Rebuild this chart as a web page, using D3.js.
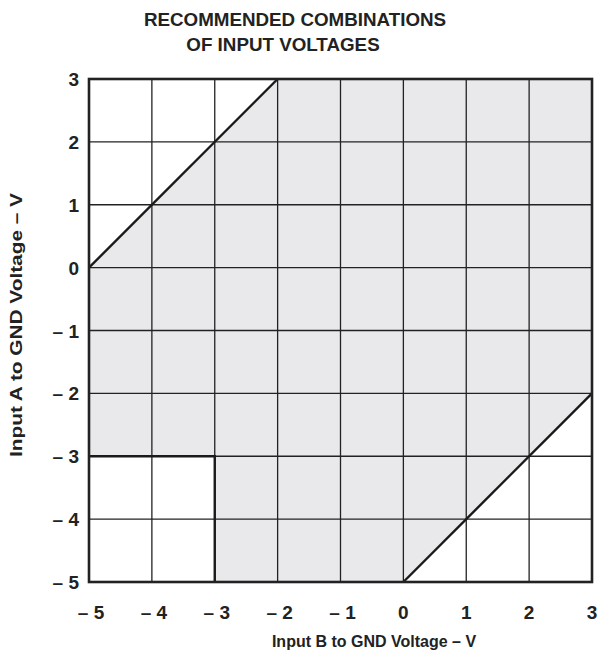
<!DOCTYPE html>
<html>
<head>
<meta charset="utf-8">
<script src="https://cdn.jsdelivr.net/npm/d3@7"></script>
<style>
  html, body { margin: 0; padding: 0; background: #fff; }
  svg { display: block; font-family: "Liberation Sans", Arial, sans-serif; }
</style>
</head>
<body>
<svg id="chart" width="598" height="653"></svg>
<script>
// ---- data ----
const titleLines = ["RECOMMENDED COMBINATIONS", "OF INPUT VOLTAGES"];
const xLabel = "Input B to GND Voltage \u2013 V";
const yLabel = "Input A to GND Voltage \u2013 V";
const xTicks = [-5, -4, -3, -2, -1, 0, 1, 2, 3];
const yTicks = [-5, -4, -3, -2, -1, 0, 1, 2, 3];
const tickLabel = v => v < 0 ? "\u2013 " + Math.abs(v) : String(v);
// recommended region (Input B, Input A) vertices
const regionB = [-5, -2, 3, 3, 0, -3, -3, -5];
const regionA = [0, 3, 3, -2, -5, -5, -3, -3];
// boundary segments drawn as heavy lines
const boundaryLines = [
  [[-5, 0], [-2, 3]],
  [[3, -2], [0, -5]],
  [[-5, -3], [-3, -3], [-3, -5]]
];

// ---- layout ----
const svg = d3.select("#chart");
const L = 89, R = 592, T = 79, B = 582;
const x = d3.scaleLinear().domain([-5, 3]).range([L, R]);
const y = d3.scaleLinear().domain([-5, 3]).range([B, T]);

// region fill
const poly = regionB.map((b, i) => [x(b), y(regionA[i])]);
svg.append("polygon")
  .attr("points", poly.map(p => p.join(",")).join(" "))
  .attr("fill", "#e9e9ec");

// grid lines
svg.append("g").selectAll("line").data(xTicks.slice(1, -1)).join("line")
  .attr("x1", d => x(d)).attr("x2", d => x(d))
  .attr("y1", T).attr("y2", B)
  .attr("stroke", "#222").attr("stroke-width", 1.3);
svg.append("g").selectAll("line").data(yTicks.slice(1, -1)).join("line")
  .attr("y1", d => y(d)).attr("y2", d => y(d))
  .attr("x1", L).attr("x2", R)
  .attr("stroke", "#222").attr("stroke-width", 1.3);

// boundary lines
const line = d3.line().x(d => x(d[0])).y(d => y(d[1]));
svg.append("g").selectAll("path").data(boundaryLines).join("path")
  .attr("d", line)
  .attr("fill", "none").attr("stroke", "#1a1a1a").attr("stroke-width", 2.4);

// frame
svg.append("rect")
  .attr("x", L).attr("y", T).attr("width", R - L).attr("height", B - T)
  .attr("fill", "none").attr("stroke", "#222").attr("stroke-width", 2.6);

// tick labels
svg.append("g").selectAll("text").data(xTicks).join("text")
  .attr("x", d => x(d) + (d < 0 ? 2 : 0)).attr("y", 619)
  .attr("text-anchor", "middle")
  .attr("font-size", 19).attr("font-weight", "bold").attr("fill", "#222")
  .text(tickLabel);
svg.append("g").selectAll("text").data(yTicks).join("text")
  .attr("x", 79).attr("y", d => y(d) + 7)
  .attr("text-anchor", "end")
  .attr("font-size", 19).attr("font-weight", "bold").attr("fill", "#222")
  .text(tickLabel);

// axis titles
svg.append("text")
  .attr("x", 374).attr("y", 647)
  .attr("text-anchor", "middle")
  .attr("font-size", 16).attr("font-weight", "bold").attr("fill", "#222")
  .text(xLabel);
svg.append("text")
  .attr("transform", "translate(22,325) rotate(-90)")
  .attr("text-anchor", "middle")
  .attr("font-size", 17).attr("font-weight", "bold").attr("fill", "#222")
  .attr("textLength", 264).attr("lengthAdjust", "spacingAndGlyphs")
  .text(yLabel);

// title
const titleX = [295, 283];
svg.append("g").selectAll("text").data(titleLines).join("text")
  .attr("x", (d, i) => titleX[i]).attr("y", (d, i) => 26 + i * 25)
  .attr("text-anchor", "middle")
  .attr("font-size", 18.8).attr("font-weight", "bold").attr("fill", "#222")
  .text(d => d);
</script>
</body>
</html>
